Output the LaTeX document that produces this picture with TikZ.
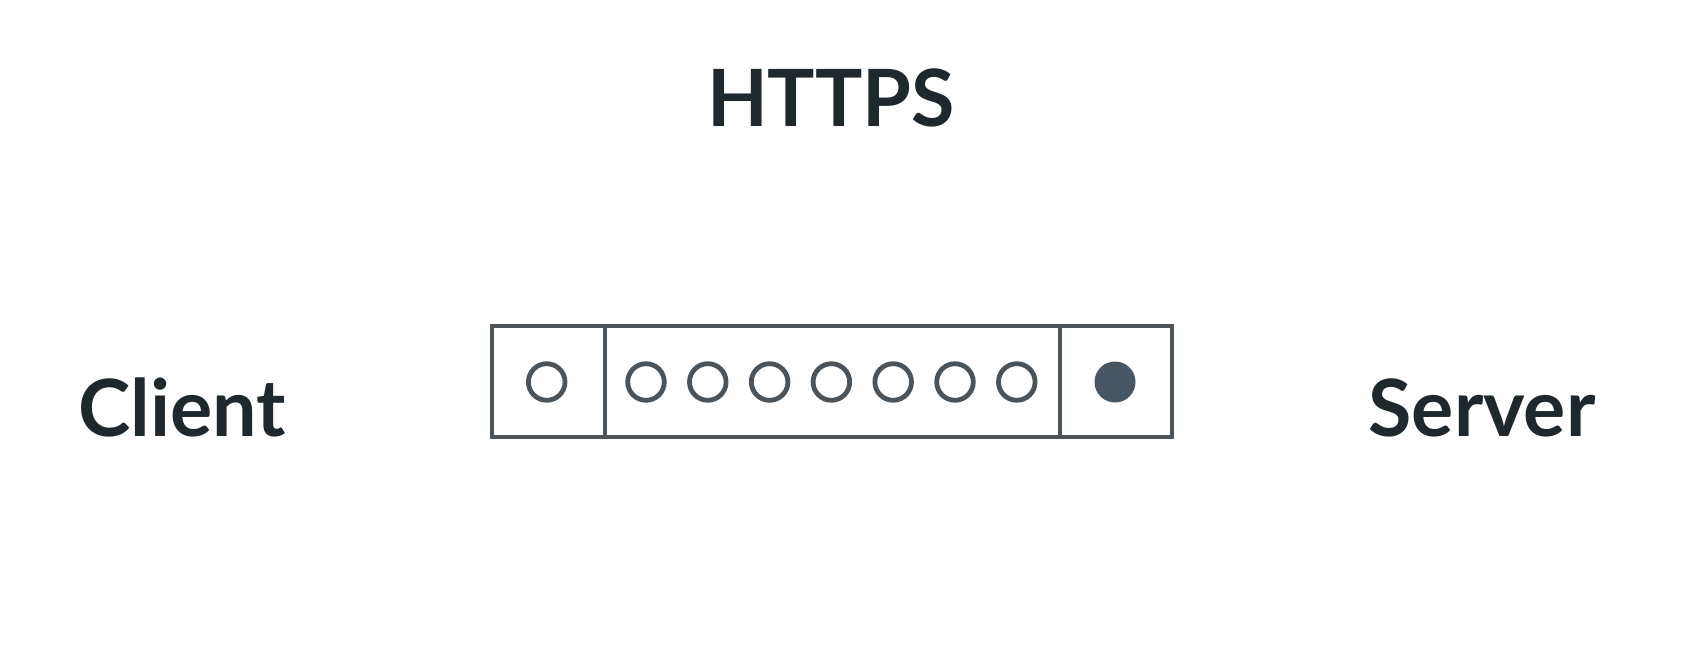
\documentclass[tikz,border=0pt]{standalone}
\usepackage{fontspec}
\setmainfont{Lato}
\definecolor{inkdark}{HTML}{1F282D}
\definecolor{framegray}{HTML}{4C5459}
\definecolor{dotgray}{HTML}{4A545A}
\definecolor{dotfill}{HTML}{465663}
\tikzset{
  label/.style={font=\fontsize{79}{84}\selectfont\bfseries, text=inkdark, inner sep=0pt, anchor=base},
  cell/.style={draw=framegray, line width=3.2pt},
  slot/.style={draw=dotgray, line width=4.8pt},
}
\begin{document}
\begin{tikzpicture}[x=1pt,y=-1pt]
  \useasboundingbox (0,0) rectangle (1690,645);
  \fill[white] (0,0) rectangle (1690,645);
  % labels
  \node[label] (https) at (831,126) {HTTPS};
  \node[label] (client) at (182,436) {Client};
  \node[label] (server) at (1482,436) {Server};
  % packet frame
  \draw[cell] (492,326) rectangle (1172,437);
  \draw[cell] (605,326) -- (605,437);
  \draw[cell] (1060,326) -- (1060,437);
  % dots
  \draw[slot] (546.7,382) circle (18.3);
  \foreach \i in {0,...,6}
    \draw[slot] (646+61.8*\i,382) circle (18.3);
  \fill[dotfill] (1115,382) circle (20.5);
\end{tikzpicture}
\end{document}
